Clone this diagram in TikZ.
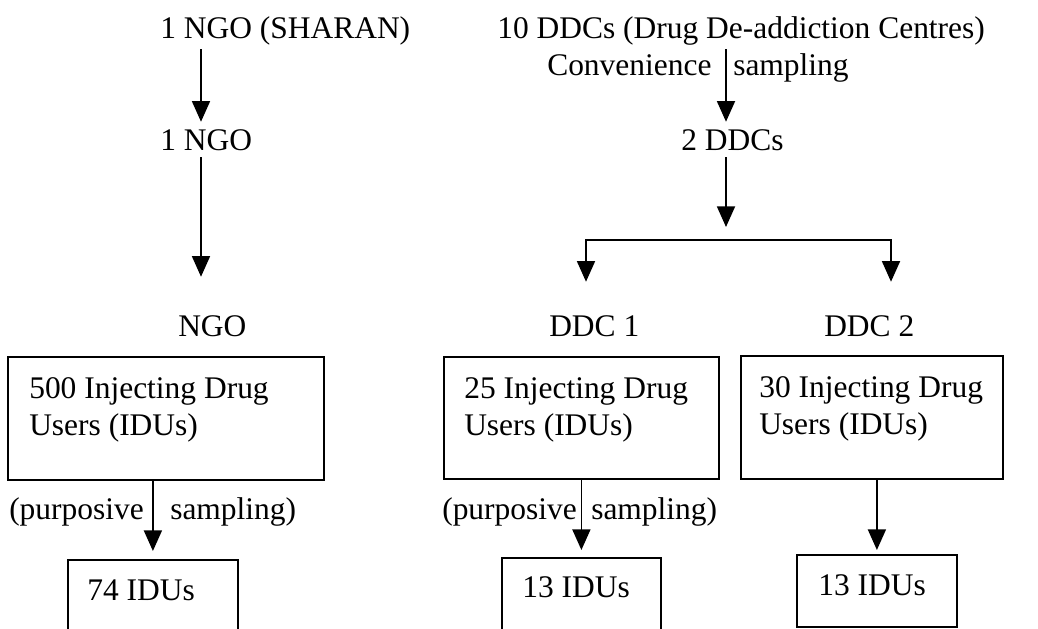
\documentclass[tikz,border=0pt]{standalone}
\usepackage{fontspec}
\setmainfont{Liberation Serif}
\usetikzlibrary{arrows.meta}
\begin{document}
\begin{tikzpicture}[x=0.75pt,y=-0.75pt,
  lbl/.style={inner sep=0pt, anchor=base west, font=\fontsize{23.6pt}{28pt}\selectfont, text height=16.5pt, text depth=5.25pt},
  boxnode/.style={draw, line width=1.35pt, inner sep=0pt, anchor=north west},
  arr/.style={line width=1.35pt, -{Triangle[width=13.5pt,length=15.5pt]}},
  ln/.style={line width=1.35pt}]
\useasboundingbox (0,0) rectangle (1038,628);
\clip (0,0) rectangle (1038,628);
\fill[white] (0,0) rectangle (1038,628);

% column guides
\coordinate (xl) at (201,0);
\coordinate (xr) at (726,0);
\coordinate (bl) at (586,240);
\coordinate (br) at (891,240);

% top labels
\node[lbl] (sharan) at (160,38) {1 NGO (SHARAN)};
\node[lbl] (ngoa) at (160,150) {1 NGO};
\node[lbl] (ngob) at (178,336) {NGO};
\node[lbl] (ddcs) at (497,38) {10 DDCs (Drug De-addiction Centres)};
\node[lbl] (conv) at (547,75) {Convenience};
\node[lbl] (samp) at (733,75) {sampling};
\node[lbl] (twoddc) at (681,150) {2 DDCs};
\node[lbl] (ddc1) at (549,336) {DDC 1};
\node[lbl] (ddc2) at (824,336) {DDC 2};

% boxes
\node[boxnode, minimum width=237pt, minimum height=92.25pt] (box500) at (7,356) {};
\node[boxnode, minimum width=206.25pt, minimum height=91.5pt] (box25) at (443,356) {};
\node[boxnode, minimum width=196.5pt, minimum height=92.25pt] (box30) at (740,355) {};
\node[boxnode, minimum width=127.5pt, minimum height=75pt] (box74) at (67,559) {};
\node[boxnode, minimum width=119.25pt, minimum height=75pt] (box13a) at (501,557) {};
\node[boxnode, minimum width=120pt, minimum height=54pt] (box13b) at (796,554) {};

% box texts
\node[lbl] (t500a) at (29,398) {500 Injecting Drug};
\node[lbl] (t500b) at (29,435) {Users (IDUs)};
\node[lbl] (t25a) at (464,398) {25 Injecting Drug};
\node[lbl] (t25b) at (464,435) {Users (IDUs)};
\node[lbl] (t30a) at (759,397) {30 Injecting Drug};
\node[lbl] (t30b) at (759,434) {Users (IDUs)};
\node[lbl] (t74) at (87,600) {74 IDUs};
\node[lbl] (t13a) at (522,597) {13 IDUs};
\node[lbl] (t13b) at (818,595) {13 IDUs};

% sampling labels
\node[lbl] (p1) at (9,519) {(purposive};
\node[lbl] (s1) at (170,519) {sampling)};
\node[lbl] (p2) at (442,519) {(purposive};
\node[lbl] (s2) at (591,519) {sampling)};

% connectors
\draw[arr, shorten <=3pt, shorten >=4.5pt] (sharan.south -| xl) -- (ngoa.north -| xl);
\draw[arr, shorten >=27.75pt] (ngoa.south -| xl) -- (ngob.north -| xl);
\draw[arr, shorten <=3pt, shorten >=4.5pt] (ddcs.south -| xr) -- (twoddc.north -| xr);
\draw[arr, shorten >=9.75pt] (twoddc.south -| xr) -- (xr |- bl);
\draw[arr, shorten >=24pt] (xr |- bl) -- (bl) -- (bl |- ddc1.north);
\draw[arr, shorten >=24pt] (xr |- br) -- (br) -- (br |- ddc2.north);
\draw[arr, shorten >=6pt] (box500.south -| box74.north) -- (box74.north);
\draw[arr, shorten >=5.25pt] (box25.south -| box13a.north) -- (box13a.north);
\draw[arr, shorten >=3pt] (box30.south -| box13b.north) -- (box13b.north);
\end{tikzpicture}
\end{document}
